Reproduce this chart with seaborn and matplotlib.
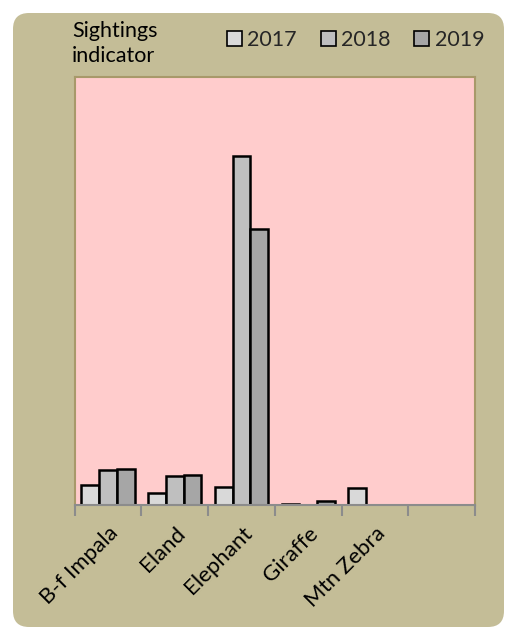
import numpy as np
import pandas as pd
import matplotlib
matplotlib.use("Agg")
import matplotlib.pyplot as plt
from matplotlib.patches import FancyBboxPatch
import seaborn as sns

# Sightings indicator per species and year (Elephant 2018 = 100)
species = ["B-f Impala", "Eland", "Elephant", "Giraffe", "Mtn Zebra"]
years = ["2017", "2018", "2019"]
vals_2017 = [5.7, 3.5, 5.2, 0.4, 5.0]
vals_2018 = [9.9, 8.2, 100.0, np.nan, np.nan]
vals_2019 = [10.3, 8.6, 79.2, 1.1, np.nan]

df = pd.DataFrame({
    "species": species * 3,
    "year": [y for y in years for _ in species],
    "value": vals_2017 + vals_2018 + vals_2019,
})

sns.set_theme(style="white")
plt.rcParams["font.family"] = ["Lato", "DejaVu Sans"]

W, H = 514, 627
DPI = 100
fig = plt.figure(figsize=(W / DPI, H / DPI), dpi=DPI)
fig.patch.set_facecolor("white")

# rounded tan panel behind everything (coordinates in inches)
panel = FancyBboxPatch((13 / DPI, 0.0), (504 - 13) / DPI, (H - 13) / DPI,
                       boxstyle="round,pad=0,rounding_size=0.16",
                       transform=fig.dpi_scale_trans, facecolor="#C4BD97",
                       edgecolor="none", zorder=-10)
fig.patches.append(panel)

ax = fig.add_axes([74.7 / W, 1 - 505 / H, (475 - 74.7) / W, (505 - 77) / H])
ax.set_zorder(5)
ax.set_facecolor("#FFCCCC")

order = species + [" "]
palette = {"2017": "#D9D9D9", "2018": "#BFBFBF", "2019": "#A6A6A6"}
sns.barplot(data=df, x="species", y="value", hue="year", order=order,
            hue_order=years, palette=palette, width=0.8, edgecolor="black",
            linewidth=1.8, saturation=1, errorbar=None, legend=False, ax=ax)

ax.set_ylim(0, 122.6)
ax.set_xlim(-0.5, len(order) - 0.5)
ax.set_yticks([])
ax.set_xlabel("")
ax.set_ylabel("")

# category labels at centres, tick marks at boundaries
ax.set_xticks(range(len(species)))
ax.set_xticklabels(species, rotation=45, ha="right", rotation_mode="anchor",
                   fontsize=16, color="black")
ax.tick_params(axis="x", which="major", length=0, pad=13)
ax.set_xticks(np.arange(-0.5, len(order)), minor=True)
ax.tick_params(axis="x", which="minor", length=8, width=1.5, color="#8C8C8C",
               direction="out", bottom=True)

for side in ["left", "top", "right"]:
    ax.spines[side].set_color("#A8996A")
    ax.spines[side].set_linewidth(1.5)
ax.spines["bottom"].set_color("#8C8C8C")
ax.spines["bottom"].set_linewidth(1.5)
ax.spines["bottom"].set_zorder(5)

fig.text(72 / W, 1 - 21 / H, "Sightings\nindicator", ha="left", va="top",
         multialignment="left", fontsize=15.5, linespacing=1.3,
         color="black")

handles = [plt.Rectangle((0, 0), 1, 1, facecolor=palette[y], edgecolor="black",
                         linewidth=1.2) for y in years]
fig.legend(handles, years, loc="center left",
           bbox_to_anchor=(227 / W, 1 - 40 / H), ncol=3, frameon=False,
           fontsize=15.5, handlelength=0.7, handleheight=0.7,
           handletextpad=0.25, columnspacing=1.1, borderpad=0,
           borderaxespad=0)

fig.savefig("out.png", dpi=DPI, facecolor=fig.get_facecolor())
